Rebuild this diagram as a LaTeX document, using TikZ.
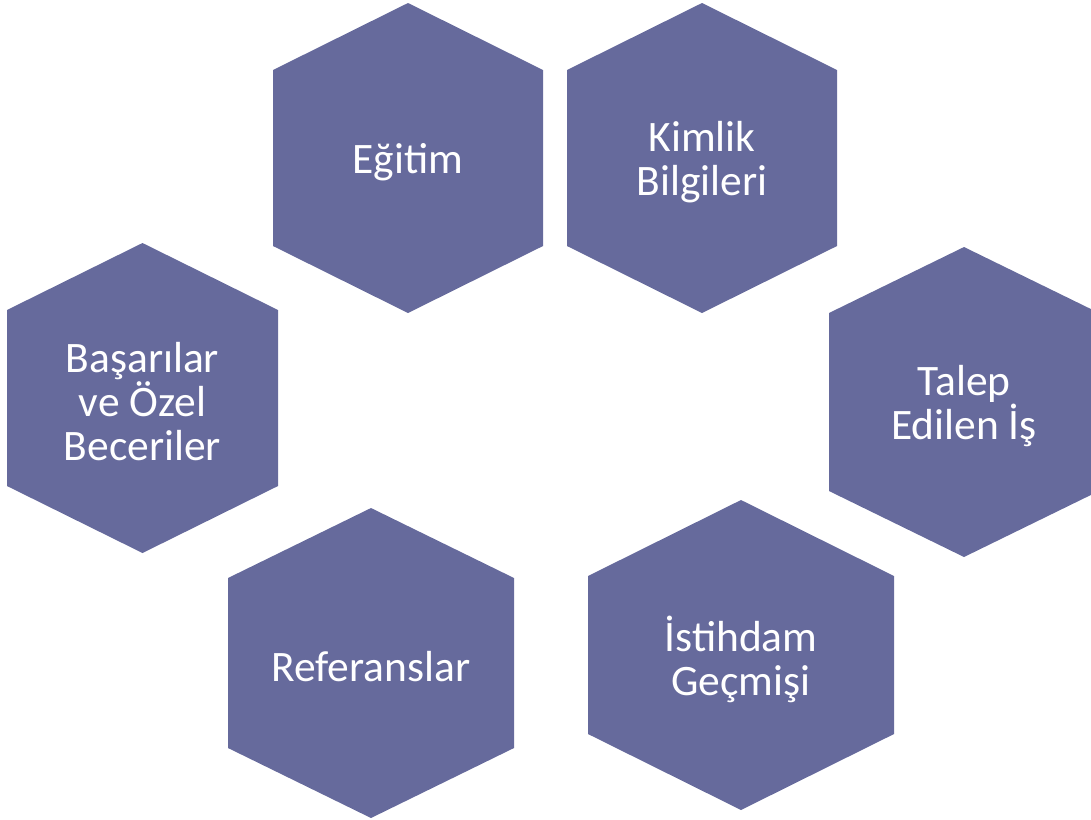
\documentclass[tikz,border=0pt]{standalone}
\usepackage{fontspec}
\setmainfont{Carlito}
\usepackage{tikz}
\definecolor{hexblue}{RGB}{102,106,156}

\begin{document}
\begin{tikzpicture}[x=0.75pt,y=-0.75pt,
  hexfill/.style={fill=hexblue,draw=none},
  hexlabel/.style={text=white,align=center,inner sep=0pt,font=\fontsize{32.6}{33}\selectfont}]
\useasboundingbox (0,0) rectangle (1091,819);
\foreach \nm/\cx/\cy/\hw/\kk/\txt in %
{egitim/408/158/135/88/{Eğitim},
 kimlik/702/158/135/88/{Kimlik\\Bilgileri},
 talep/964/402/135/89/{Talep\\Edilen İş},
 istihdam/741/655/153/79/{İstihdam\\Geçmişi},
 referans/371/663/143/85/{Referanslar},
 basari/142.5/398/135.5/88/{Başarılar\\ve Özel\\Beceriler}} {
   \fill[hexfill] (\cx,\cy-155) -- (\cx+\hw,\cy-\kk) -- (\cx+\hw,\cy+\kk)
      -- (\cx,\cy+155) -- (\cx-\hw,\cy+\kk) -- (\cx-\hw,\cy-\kk) -- cycle;
   \node[hexlabel] (\nm) at (\cx,\cy+4) {\txt};
}
\end{tikzpicture}
\end{document}
